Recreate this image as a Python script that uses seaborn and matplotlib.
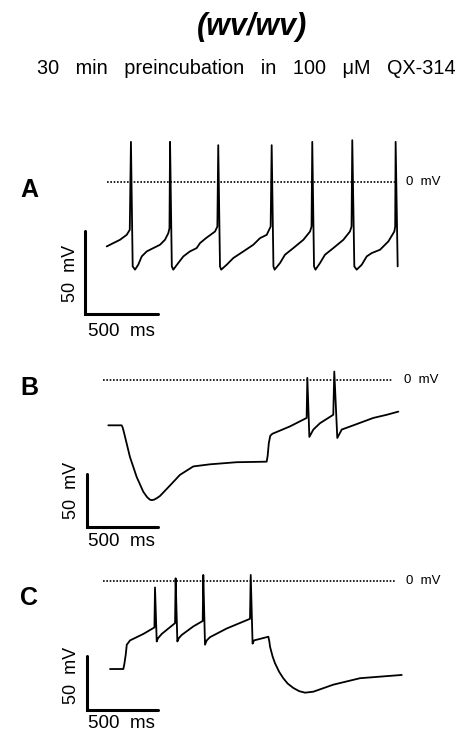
import numpy as np
import pandas as pd
import seaborn as sns
import matplotlib.pyplot as plt

# --- traces (time in ms, membrane potential in mV) ---
a_t = [0, 45, 91, 137, 158, 166, 178, 194, 216, 240, 274, 319, 365, 399, 422, 430,
       434, 446, 456, 490, 525, 570, 616, 639, 680, 742, 758,
       764, 776, 784, 822, 867, 936, 1004, 1050, 1096, 1123,
       1130, 1142, 1150, 1187, 1221, 1278, 1347, 1393, 1403,
       1408, 1420, 1430, 1461, 1495, 1552, 1621, 1666, 1677,
       1682, 1696, 1712, 1747, 1781, 1815, 1872, 1929, 1970, 1976,
       1979, 1993]
a_v = [-39, -37, -35, -32, -29, 24, -51, -53, -50, -45, -42, -40, -38, -35, -31, -28,
       24, -51, -53, -49, -45, -42, -40, -37, -34, -30, -27,
       22, -51, -53, -50, -46, -42, -38, -34, -32, -27,
       22, -51, -53, -49, -44, -40, -35, -30, -27,
       24, -51, -53, -49, -44, -40, -35, -30, -27,
       25, -51, -53, -50, -45, -43, -41, -36, -30, -27,
       24, -51]

b_t = [0, 93, 100, 108, 117, 151, 198, 244, 270, 290, 303, 320, 340, 361, 431, 500,
       593, 709, 896, 1105, 1112, 1120, 1130, 1145, 1163, 1268, 1384, 1389, 1403,
       1431, 1477, 1570, 1577, 1598, 1629, 1710, 1849, 1943, 2024]
b_v = [-43, -43, -45, -49, -54, -73, -92, -106, -111, -113.5, -114, -113.5, -112, -110,
       -100, -90, -82, -80, -78, -77.5, -72, -60, -53, -51, -50, -44, -36, 2, -54,
       -47, -41, -33, 8, -55, -47, -43, -36, -33, -30]

c_t = [0, 93, 100, 110, 117, 140, 233, 310, 314, 326, 335, 361, 454,
       458, 470, 480, 500, 582, 647, 651, 663, 675, 698, 814, 977,
       982, 995, 1005, 1035, 1105, 1112, 1117, 1135, 1151, 1180, 1209, 1240, 1279,
       1320, 1361, 1419, 1558, 1745, 2036]
c_v = [-81.5, -81.5, -77, -68, -59, -55, -49, -43, -6, -56, -53, -49, -39,
       2.5, -56, -53, -50, -42, -37, 5.6, -59, -55, -52, -44, -35,
       5.6, -58, -55, -54, -51.6, -56, -61, -70, -76, -84, -90, -95, -99,
       -102, -103.4, -102.5, -96, -90, -87]

traces = {"A": (a_t, a_v), "B": (b_t, b_v), "C": (c_t, c_v)}

# panel geometry in figure pixels: band, origin of t=0 / 0 mV, px per ms, px per mV
W, H = 477, 733
geom = {
    "A": dict(top=120, bottom=352, x0=106.7, y0=181.7, ppms=0.146, ppmv=1.66,
              zero=(0, 1975), bar=(-149, -80), mvlab=(-246, -55), mslab=(103, -90.5),
              letter=190),
    "B": dict(top=352, bottom=560, x0=108.3, y0=380.0, ppms=0.1433, ppmv=1.054,
              zero=(-35, 1989), bar=(-151, -139.2), mvlab=(-255, -105), mslab=(94, -153.5),
              letter=388),
    "C": dict(top=560, bottom=733, x0=110.0, y0=581.0, ppms=0.1433, ppmv=1.08,
              zero=(-47, 1989), bar=(-163, -119.4), mvlab=(-267, -87), mslab=(82, -132),
              letter=598),
}

sns.set_theme(style="white")
plt.rcParams['font.family'] = ['Liberation Sans', 'DejaVu Sans']
plt.rcParams['text.color'] = 'black'

fig = plt.figure(figsize=(W / 100, H / 100), dpi=100)

for name, g in geom.items():
    ax = fig.add_axes([0, 1 - g["bottom"] / H, 1, (g["bottom"] - g["top"]) / H])
    ax.set_xlim(-g["x0"] / g["ppms"], (W - g["x0"]) / g["ppms"])
    ax.set_ylim((g["y0"] - g["bottom"]) / g["ppmv"], (g["y0"] - g["top"]) / g["ppmv"])
    ax.axis("off")

    t, v = traces[name]
    df = pd.DataFrame({"t": t, "v": v})
    sns.lineplot(data=df, x="t", y="v", sort=False, estimator=None,
                 color="black", lw=1.3, ax=ax)

    # 0 mV reference
    ax.hlines(0, g["zero"][0], g["zero"][1], colors="black", lw=1.2,
              linestyles=(0, (1, 1)))
    ax.text(g["zero"][1] + 75, 0, "0  mV", fontsize=9.5, ha="left", va="center")

    # scale bars: 500 ms / 50 mV
    bx, by = g["bar"]
    ax.plot([bx, bx, bx + 500], [by + 50, by, by], color="black", lw=2.2,
            solid_joinstyle="miter", clip_on=False)
    ax.text(g["mvlab"][0], g["mvlab"][1], "50  mV", rotation=90, fontsize=13,
            ha="center", va="center")
    ax.text(g["mslab"][0], g["mslab"][1], "500  ms", fontsize=13.5,
            ha="center", va="center")

    fig.text(29 / W, 1 - g["letter"] / H, name, fontsize=18, fontweight="bold",
             ha="center", va="center")

fig.text(252 / W, 1 - 27 / H, "(wv/wv)", fontsize=22, fontweight="bold",
         fontstyle="italic", ha="center", va="center")
fig.text(246 / W, 1 - 69 / H, "30   min   preincubation   in   100   μM   QX-314",
         fontsize=14.3, ha="center", va="center")

fig.savefig("out.png", dpi=100)
